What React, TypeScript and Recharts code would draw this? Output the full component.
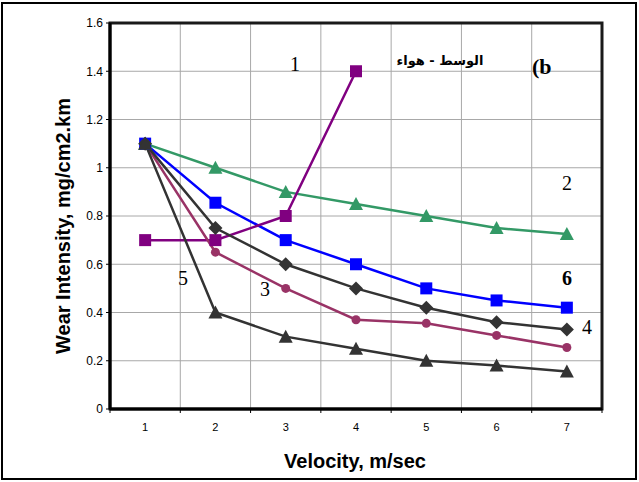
import React from 'react'
import {
  LineChart,
  Line,
  XAxis,
  YAxis,
  CartesianGrid,
  ReferenceArea,
} from 'recharts'

// velocity (m/sec) and wear intensity
const velocity = [1, 2, 3, 4, 5, 6, 7]
const curve1 = [0.7, 0.7, 0.8, 1.4]
const curve2 = [1.1, 1.0, 0.9, 0.85, 0.8, 0.75, 0.725]
const curve3 = [1.1, 0.65, 0.5, 0.37, 0.355, 0.305, 0.255]
const curve4 = [1.1, 0.75, 0.6, 0.5, 0.42, 0.36, 0.33]
const curve5 = [1.1, 0.4, 0.3, 0.25, 0.2, 0.18, 0.155]
const curve6 = [1.1, 0.855, 0.7, 0.6, 0.5, 0.45, 0.42]

const yTicks = [0, 0.2, 0.4, 0.6, 0.8, 1, 1.2, 1.4, 1.6]
const xBounds = [0.5, 1.5, 2.5, 3.5, 4.5, 5.5, 6.5, 7.5]

const rows = velocity.map((v, i) => ({
  v,
  c1: curve1[i],
  c2: curve2[i],
  c3: curve3[i],
  c4: curve4[i],
  c5: curve5[i],
  c6: curve6[i],
}))

const W = 639
const H = 482
const M = { top: 23, right: 37, bottom: 43, left: 50 }
const Y_AXIS_W = 60
const X_AXIS_H = 30
const plotW = W - M.left - Y_AXIS_W - M.right
const band = plotW / velocity.length

const sans = 'Arial, "Liberation Sans", sans-serif'
const serif = '"Times New Roman", "Liberation Serif", serif'

const square = (color: string) => (p: any) => {
  if (p.cy == null || p.value == null) return <g key={p.index} />
  return <rect key={p.index} x={p.cx - 6} y={p.cy - 6} width={12} height={12} fill={color} />
}
const triangle = (color: string) => (p: any) => {
  if (p.cy == null || p.value == null) return <g key={p.index} />
  const { cx, cy } = p
  return (
    <polygon
      key={p.index}
      points={`${cx},${cy - 7} ${cx - 7},${cy + 6} ${cx + 7},${cy + 6}`}
      fill={color}
    />
  )
}
const diamond = (color: string) => (p: any) => {
  if (p.cy == null || p.value == null) return <g key={p.index} />
  const { cx, cy } = p
  return (
    <polygon
      key={p.index}
      points={`${cx},${cy - 7} ${cx + 7},${cy} ${cx},${cy + 7} ${cx - 7},${cy}`}
      fill={color}
    />
  )
}
const circle = (color: string) => (p: any) => {
  if (p.cy == null || p.value == null) return <g key={p.index} />
  return <circle key={p.index} cx={p.cx} cy={p.cy} r={4.5} fill={color} />
}

// tick marks sit on the category boundaries, labels in the middle of each band
const XTick = ({ x, y, payload }: any) => {
  if (payload.value > 7) return <g />
  return (
    <text
      x={x + band / 2}
      y={y + 16}
      textAnchor="middle"
      fontFamily={sans}
      fontSize={11}
      fill="#000"
    >
      {payload.value + 0.5}
    </text>
  )
}

const fmtY = (v: number) => (v === 0 || v === 1 ? String(v) : v.toFixed(1))

const tag = (text: string, left: number, top: number, extra: React.CSSProperties = {}) => (
  <span
    style={{
      position: 'absolute',
      left,
      top,
      fontFamily: serif,
      fontSize: 20,
      lineHeight: '20px',
      color: '#000',
      whiteSpace: 'nowrap',
      ...extra,
    }}
  >
    {text}
  </span>
)

export default function App() {
  return (
    <div style={{ position: 'absolute', left: 0, top: 0, width: W, height: H, background: '#fff' }}>
      <LineChart width={W} height={H} data={rows} margin={M}>
        <CartesianGrid stroke="#a8a8a8" strokeWidth={1} />
        <XAxis
          dataKey="v"
          type="number"
          domain={[0.5, 7.5]}
          ticks={xBounds}
          height={X_AXIS_H}
          tick={<XTick />}
          tickLine={{ stroke: '#000' }}
          tickSize={4}
          axisLine={{ stroke: '#000', strokeWidth: 3 }}
          interval={0}
        />
        <YAxis
          type="number"
          domain={[0, 1.6]}
          ticks={yTicks}
          width={Y_AXIS_W}
          tickFormatter={fmtY}
          tick={{ fontFamily: sans, fontSize: 12, fill: '#000' }}
          tickLine={{ stroke: '#000' }}
          tickSize={4}
          tickMargin={3}
          axisLine={{ stroke: '#000', strokeWidth: 3 }}
          interval={0}
        />
        <ReferenceArea
          x1={0.5}
          x2={7.5}
          y1={0}
          y2={1.6}
          fill="none"
          stroke="#1a1a1a"
          strokeWidth={3}
          ifOverflow="visible"
        />
        <Line dataKey="c2" stroke="#339966" strokeWidth={2.5} dot={triangle('#339966')} isAnimationActive={false} />
        <Line dataKey="c6" stroke="#0000ff" strokeWidth={2.5} dot={square('#0000ff')} isAnimationActive={false} />
        <Line dataKey="c1" stroke="#800080" strokeWidth={2.5} dot={square('#800080')} isAnimationActive={false} />
        <Line dataKey="c3" stroke="#993366" strokeWidth={2.5} dot={circle('#993366')} isAnimationActive={false} />
        <Line dataKey="c4" stroke="#333333" strokeWidth={2.5} dot={diamond('#333333')} isAnimationActive={false} />
        <Line dataKey="c5" stroke="#333333" strokeWidth={2.5} dot={triangle('#333333')} isAnimationActive={false} />
      </LineChart>

      {/* outer frame */}
      <div
        style={{
          position: 'absolute',
          left: 1,
          top: 2,
          width: 636,
          height: 478,
          border: '2px solid #000',
          boxSizing: 'border-box',
          pointerEvents: 'none',
        }}
      />

      {/* axis titles */}
      <div
        style={{
          position: 'absolute',
          left: 63,
          top: 226,
          transform: 'translate(-50%, -50%) rotate(-90deg)',
          fontFamily: sans,
          fontWeight: 700,
          fontSize: 20,
          whiteSpace: 'nowrap',
          color: '#000',
        }}
      >
        Wear Intensity, mg/cm2.km
      </div>
      <div
        style={{
          position: 'absolute',
          left: 355,
          top: 461,
          transform: 'translate(-50%, -50%)',
          fontFamily: sans,
          fontWeight: 700,
          fontSize: 20,
          whiteSpace: 'nowrap',
          color: '#000',
        }}
      >
        Velocity, m/sec
      </div>

      {/* curve numbers and caption */}
      {tag('1', 290, 54)}
      {tag('2', 562, 173)}
      {tag('6', 562, 268, { fontWeight: 700 })}
      {tag('4', 582, 317)}
      {tag('5', 178, 268)}
      {tag('3', 260, 279)}
      {tag('(b', 532, 56, { fontWeight: 700, fontSize: 22, lineHeight: '22px' })}
      <span
        style={{
          position: 'absolute',
          left: 440,
          top: 60,
          transform: 'translate(-50%, -50%)',
          direction: 'rtl',
          fontFamily: '"DejaVu Sans", sans-serif',
          fontWeight: 700,
          fontSize: 13,
          whiteSpace: 'nowrap',
          color: '#000',
        }}
      >
        الوسط - هواء
      </span>
    </div>
  )
}
